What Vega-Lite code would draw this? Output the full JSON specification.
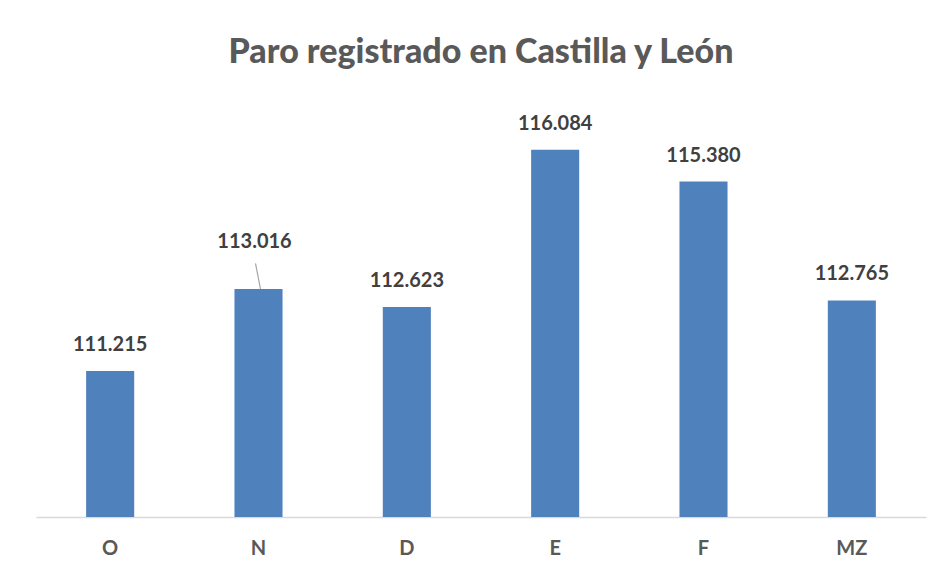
{
  "$schema": "https://vega.github.io/schema/vega-lite/v6.json",
  "autosize": "none",
  "width": 890,
  "height": 409,
  "padding": {"left": 36, "top": 108, "right": 19, "bottom": 56},
  "background": "white",
  "title": {
    "text": "Paro registrado en Castilla y León",
    "font": "Lato",
    "fontSize": 34,
    "fontWeight": 900,
    "color": "#595959",
    "offset": 38,
    "anchor": "middle"
  },
  "config": {
    "view": {"stroke": null},
    "locale": {"number": {"decimal": ",", "thousands": ".", "grouping": [3], "currency": ["", " €"]}}
  },
  "data": {
    "values": [
      {"mes": "O", "parados": 111215},
      {"mes": "N", "parados": 113016},
      {"mes": "D", "parados": 112623},
      {"mes": "E", "parados": 116084},
      {"mes": "F", "parados": 115380},
      {"mes": "MZ", "parados": 112765}
    ]
  },
  "encoding": {
    "x": {
      "field": "mes",
      "type": "nominal",
      "sort": null,
      "scale": {"paddingInner": 0.676, "paddingOuter": 0.338},
      "axis": {
        "title": null,
        "labelAngle": 0,
        "labelFont": "Lato",
        "labelFontSize": 20,
        "labelFontWeight": "bold",
        "labelColor": "#595959",
        "labelPadding": 21,
        "ticks": false,
        "domainColor": "#d9d9d9",
        "domainWidth": 1.5
      }
    },
    "y": {
      "field": "parados",
      "type": "quantitative",
      "scale": {"domain": [108000, 117000], "zero": false, "nice": false},
      "axis": null
    }
  },
  "layer": [
    {"mark": {"type": "bar", "color": "#4f81bd"}, "encoding": {"y2": {"datum": 108000}}},
    {
      "transform": [{"filter": "datum.mes != 'N'"}],
      "mark": {"type": "text", "baseline": "bottom", "dy": -16, "font": "Lato", "fontSize": 20, "fontWeight": "bold", "color": "#404040"},
      "encoding": {"text": {"field": "parados", "type": "quantitative", "format": ",d"}}
    },
    {
      "transform": [{"filter": "datum.mes == 'N'"}],
      "mark": {"type": "text", "baseline": "bottom", "dy": -37, "dx": -4, "font": "Lato", "fontSize": 20, "fontWeight": "bold", "color": "#404040"},
      "encoding": {"text": {"field": "parados", "type": "quantitative", "format": ",d"}}
    },
    {
      "transform": [{"filter": "datum.mes == 'N'"}],
      "mark": {"type": "rule", "color": "#a6a6a6", "strokeWidth": 1.2, "xOffset": 2, "x2Offset": -3},
      "encoding": {"x2": {"datum": "N"}, "y2": {"datum": 113580}}
    }
  ]
}
